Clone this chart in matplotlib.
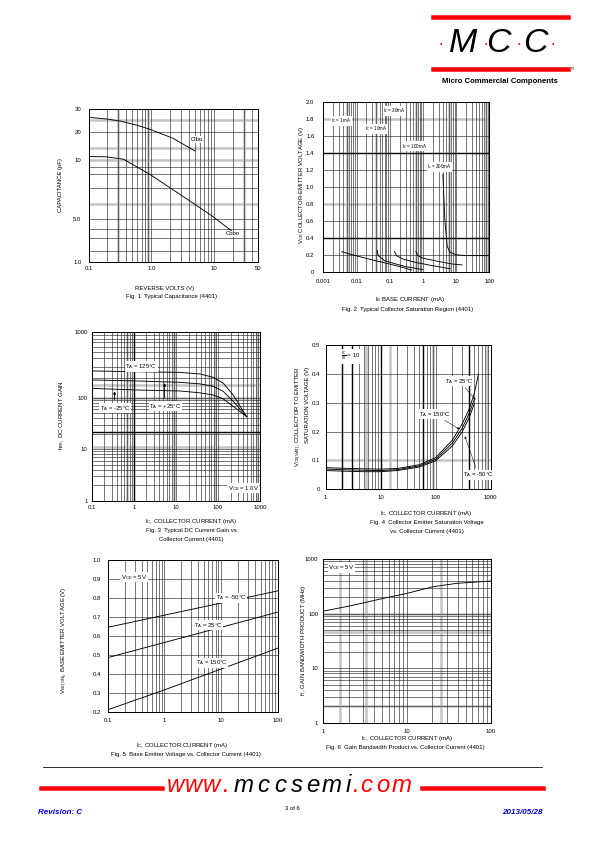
import numpy as np
import matplotlib.pyplot as plt

plt.rcParams['font.family'] = ['Liberation Sans', 'DejaVu Sans']
plt.rcParams['mathtext.fontset'] = 'custom'
plt.rcParams['mathtext.rm'] = 'Liberation Sans'
plt.rcParams['mathtext.it'] = 'Liberation Sans:italic'
plt.rcParams['mathtext.bf'] = 'Liberation Sans:bold'

# ---- data ----
# Fig 1 capacitance
v_cibo = [0.1, 0.195, 0.318, 0.585, 0.95, 2.23, 4.93]
cibo = [25.9, 25.1, 24.2, 22.5, 20.9, 17.0, 12.5]
v_cobo = [0.1, 0.195, 0.36, 0.95, 2.23, 4.66, 9.64, 18.8]
cobo = [10.9, 10.8, 10.2, 8.45, 7.05, 6.03, 5.15, 3.24]

# Fig 2 saturation region (IB mA, VCE V)
ib_1ma = [0.0036, 0.008, 0.0256, 0.081, 0.2, 0.46]
vce_1ma = [0.236, 0.197, 0.146, 0.099, 0.06, 0.02]
ib_10ma = [0.042, 0.045, 0.07, 0.128, 0.3, 1.0]
vce_10ma = [0.25, 0.19, 0.13, 0.1, 0.06, 0.025]
ib_30ma = [0.14, 0.16, 0.25, 0.6, 2.0, 6.6]
vce_30ma = [0.24, 0.19, 0.15, 0.11, 0.07, 0.035]
ib_100ma = [0.62, 0.7, 1.0, 3.0, 8.0, 15.0]
vce_100ma = [0.24, 0.19, 0.16, 0.12, 0.09, 0.08]
ib_300ma = [4.0, 4.6, 5.4, 6.5, 10.0, 20.0, 100.0]
vce_300ma = [1.15, 0.6, 0.3, 0.23, 0.2, 0.19, 0.19]

# Fig 3 DC current gain (IC mA, hFE)
ic_hfe = [0.1, 1.4, 12.5, 37.3, 77.3, 134, 231, 481]
hfe_125 = [257, 249, 244, 231, 205, 167, 110, 42.8]
hfe_25 = [187, 180, 172, 163, 150, 125, 85, 42.8]
hfe_m25 = [139, 131, 127, 119, 110, 95, 68, 42.8]

# Fig 4 VCE(sat)
ic_sat = [1, 2, 5, 10, 20, 50, 100, 200, 300, 400, 500, 600]
vsat_150 = [0.075, 0.073, 0.071, 0.070, 0.072, 0.085, 0.110, 0.170, 0.225, 0.275, 0.330, 0.400]
vsat_25 = [0.070, 0.068, 0.066, 0.065, 0.068, 0.081, 0.104, 0.160, 0.210, 0.260, 0.310, np.nan]
vsat_m50 = [0.065, 0.063, 0.061, 0.061, 0.065, 0.077, 0.099, 0.150, 0.198, 0.245, 0.295, np.nan]

# Fig 5 VBE(on)
ic_vbe = [0.1, 1, 10, 100]
vbe_m50 = [0.645, 0.709, 0.773, 0.837]
vbe_25 = [0.485, 0.565, 0.645, 0.725]
vbe_150 = [0.21, 0.315, 0.425, 0.535]

# Fig 6 fT
ic_ft = [1, 2.08, 5.2, 10, 20.5, 39, 100]
ft = [111, 138, 190, 235, 311, 358, 395]

W, H = 595, 842
fig = plt.figure(figsize=(W / 72, H / 72), dpi=72)


def page_axes(l, t, r, b):
    return fig.add_axes([l / W, 1 - b / H, (r - l) / W, (b - t) / H])


def ptext(x, y, s, **kw):
    kw.setdefault('ha', 'center')
    kw.setdefault('va', 'center')
    kw.setdefault('fontsize', 6)
    fig.text(x / W, 1 - y / H, s, **kw)


def log_minors(lo, hi):
    out = []
    for e in range(-4, 4):
        for m in range(1, 10):
            v = m * 10.0 ** e
            if lo * 1.0001 < v < hi * 0.9999:
                out.append(v)
    return out


def warp_y(ax, ticks, fracs):
    lt = np.log10(ticks)
    fw = lambda v: np.interp(np.log10(np.clip(v, 1e-9, None)), lt, fracs)
    iv = lambda p: 10 ** np.interp(p, fracs, lt)
    ax.set_yscale('function', functions=(fw, iv))


def grid(ax, xs=(), ys=(), gx=(), gy=(), bx=(), by=()):
    for v in gx:
        ax.axvline(v, color='#c4c4c4', lw=2.5, zorder=0.5)
    for v in gy:
        ax.axhline(v, color='#c4c4c4', lw=2.5, zorder=0.5)
    for v in xs:
        ax.axvline(v, color='#222222', lw=0.6, zorder=1)
    for v in ys:
        ax.axhline(v, color='#222222', lw=0.6, zorder=1)
    for v in bx:
        ax.axvline(v, color='black', lw=1.4, zorder=1)
    for v in by:
        ax.axhline(v, color='black', lw=1.4, zorder=1)


def ticks(ax, xt, xl, yt, yl, xpad=4, ypad=6):
    ax.set_xticks(xt)
    ax.set_xticklabels(xl)
    ax.set_yticks(yt)
    ax.set_yticklabels(yl)
    ax.minorticks_off()
    ax.tick_params(axis='x', length=0, labelsize=6, pad=xpad)
    ax.tick_params(axis='y', length=0, labelsize=6, pad=ypad)
    for s in ax.spines.values():
        s.set_linewidth(1.0)


box = dict(facecolor='white', edgecolor='none', pad=0.6)

# ---- Fig 1 ----
ax1 = page_axes(88.5, 109, 258, 261.7)
ax1.set_xscale('log')
warp_y(ax1, [1, 5, 10, 20, 30], [0, 0.278, 0.666, 0.851, 1])
ax1.set_xlim(0.1, 50)
ax1.set_ylim(1, 30)
grid(ax1, xs=log_minors(0.1, 50), ys=[1.5, 2.5, 3.5, 5, 7.2, 8.5, 9.2, 20],
     gx=[0.3, 0.9, 30], gy=[6, 10, 13.3, 24.5])
ax1.plot(v_cibo, cibo, color='black', lw=0.9, zorder=3)
ax1.plot(v_cobo, cobo, color='black', lw=0.9, zorder=3)
ticks(ax1, [0.1, 1, 10, 50], ['0.1', '1.0', '10', '50'],
      [1, 5, 10, 20, 30], ['1.0', '5.0', '10', '20', '30'], xpad=4, ypad=7)
ax1.text(5.4, 16.5, 'Cibo', fontsize=6, ha='center', va='center', bbox=box, zorder=4)
ax1.text(20, 2.9, 'Cobo', fontsize=6, ha='center', va='center', bbox=box, zorder=4)
ptext(60.7, 185, 'CAPACITANCE (pF)', rotation=90)
ptext(165, 288.3, 'REVERSE VOLTS (V)')
ptext(171, 296.7, 'Fig. 1  Typical Capacitance (4401)')

# ---- Fig 2 ----
ax2 = page_axes(323.3, 102.3, 489.3, 271.7)
ax2.set_xscale('log')
ax2.set_xlim(0.001, 100)
ax2.set_ylim(0, 2.0)
grid(ax2, xs=log_minors(0.001, 100), ys=[0.2, 0.6, 1.0, 1.2, 1.6],
     gx=[0.005, 0.04, 0.6, 6, 80], gy=[0.8, 1.8], by=[0.4, 1.4])
for xb, yb in [(ib_1ma, vce_1ma), (ib_10ma, vce_10ma), (ib_30ma, vce_30ma),
               (ib_100ma, vce_100ma), (ib_300ma, vce_300ma)]:
    ax2.plot(xb, yb, color='black', lw=0.9, zorder=3)
ticks(ax2, [0.001, 0.01, 0.1, 1, 10, 100], ['0.001', '0.01', '0.1', '1', '10', '100'],
      np.arange(0, 2.01, 0.2), ['0'] + ['%.1f' % v for v in np.arange(0.2, 2.01, 0.2)],
      xpad=7, ypad=9)
ax2.text(0.0035, 1.78, 'I$_\\mathrm{C}$ = 1mA', fontsize=4.5, ha='center', va='center', bbox=box, zorder=4)
ax2.text(0.04, 1.69, 'I$_\\mathrm{C}$ = 10mA', fontsize=4.5, ha='center', va='center', bbox=box, zorder=4)
ax2.text(0.14, 1.9, 'I$_\\mathrm{C}$ = 30mA', fontsize=4.5, ha='center', va='center', bbox=box, zorder=4)
ax2.text(0.58, 1.48, 'I$_\\mathrm{C}$ = 100mA', fontsize=4.5, ha='center', va='center', bbox=box, zorder=4)
ax2.text(3.2, 1.24, 'I$_\\mathrm{c}$ = 300mA', fontsize=4.5, ha='center', va='center', bbox=box, zorder=4)
ptext(301, 185, 'V$_\\mathrm{CE}$ COLLECTOR-EMITTER VOLTAGE (V)', rotation=90)
ptext(410, 299, 'I$_\\mathrm{B}$ BASE CURRENT (mA)')
ptext(408, 310, 'Fig. 2  Typical Collector Saturation Region (4401)')

# ---- Fig 3 ----
ax3 = page_axes(91.7, 332.3, 260, 501)
ax3.set_xscale('log')
warp_y(ax3, [1, 10, 100, 1000], [0, 0.308, 0.612, 1])
ax3.set_xlim(0.1, 1000)
ax3.set_ylim(1, 1000)
grid(ax3, xs=log_minors(0.1, 1000), ys=log_minors(1, 1000),
     gx=[0.7, 9, 85, 850], gy=[11, 100, 157], bx=[1], by=[21.8])
ax3.plot(ic_hfe, hfe_125, color='black', lw=0.9, zorder=3)
ax3.plot(ic_hfe, hfe_25, color='black', lw=0.9, zorder=3)
ax3.plot(ic_hfe, hfe_m25, color='black', lw=0.9, zorder=3)
ticks(ax3, [0.1, 1, 10, 100, 1000], ['0.1', '1', '10', '100', '1000'],
      [1, 10, 100, 1000], ['1', '10', '100', '1000'], xpad=4, ypad=4)
ax3.text(1.5, 300, 'T$_\\mathrm{A}$ = 125°C', fontsize=6, ha='center', va='center', bbox=box, zorder=4)
ax3.text(0.36, 62, 'T$_\\mathrm{A}$ = -25°C', fontsize=6, ha='center', va='center', bbox=box, zorder=4)
ax3.text(5.6, 68, 'T$_\\mathrm{A}$ = +25°C', fontsize=6, ha='center', va='center', bbox=box, zorder=4)
ax3.annotate('', xy=(0.35, 135), xytext=(0.35, 84),
             arrowprops=dict(arrowstyle='-|>', color='black', lw=0.9, mutation_scale=5), zorder=4)
ax3.annotate('', xy=(5.4, 180), xytext=(5.4, 92),
             arrowprops=dict(arrowstyle='-|>', color='black', lw=0.9, mutation_scale=5), zorder=4)
ax3.text(400, 1.75, 'V$_\\mathrm{CE}$ = 1.0V', fontsize=6, ha='center', va='center', bbox=box, zorder=4)
ptext(61.7, 415, 'h$_\\mathrm{FE}$, DC CURRENT GAIN', rotation=90)
ptext(191, 521.7, 'I$_\\mathrm{C}$, COLLECTOR CURRENT (mA)')
ptext(191, 530.7, 'Fig. 3  Typical DC Current Gain vs')
ptext(191, 540, 'Collector Current (4401)')

# ---- Fig 4 ----
ax4 = page_axes(325.7, 345, 490.7, 489.3)
ax4.set_xscale('log')
ax4.set_xlim(1, 1000)
ax4.set_ylim(0, 0.5)
grid(ax4, xs=log_minors(1, 1000), ys=[0.2, 0.3, 0.4], gx=[5.5, 15, 88, 850],
     gy=[0.1], bx=[2, 3, 10, 60, 400])
ax4.plot(ic_sat, vsat_150, color='black', lw=0.9, zorder=3)
ax4.plot(ic_sat, vsat_25, color='black', lw=0.9, zorder=3)
ax4.plot(ic_sat, vsat_m50, color='black', lw=0.9, zorder=3)
ticks(ax4, [1, 10, 100, 1000], ['1', '10', '100', '1000'],
      [0, 0.1, 0.2, 0.3, 0.4, 0.5], ['0', '0.1', '0.2', '0.3', '0.4', '0.5'], xpad=6, ypad=6)
ax4.text(1.9, 0.46, '$\\frac{\\mathrm{I_C}}{\\mathrm{I_B}}$ = 10', fontsize=6, ha='left', va='center', bbox=box, zorder=4)
ax4.annotate('T$_\\mathrm{A}$ = 25°C', xy=(560, 0.305), xytext=(270, 0.375),
             fontsize=6, ha='center', va='center', bbox=box, zorder=4,
             arrowprops=dict(arrowstyle='-|>', color='black', lw=0.5, mutation_scale=4))
ax4.annotate('T$_\\mathrm{A}$ = 150°C', xy=(290, 0.205), xytext=(95, 0.26),
             fontsize=6, ha='center', va='center', bbox=box, zorder=4,
             arrowprops=dict(arrowstyle='-|>', color='black', lw=0.5, mutation_scale=4))
ax4.annotate('T$_\\mathrm{A}$ = -50°C', xy=(330, 0.19), xytext=(600, 0.05),
             fontsize=6, ha='center', va='center', bbox=box, zorder=4,
             arrowprops=dict(arrowstyle='-|>', color='black', lw=0.5, mutation_scale=4))
ptext(299, 417, 'V$_\\mathrm{CE(SAT)}$, COLLECTOR TO EMITTER', rotation=90)
ptext(307.5, 405, 'SATURATION VOLTAGE (V)', rotation=90)
ptext(426, 513.3, 'I$_\\mathrm{C}$, COLLECTOR CURRENT (mA)')
ptext(427, 522.3, 'Fig. 4  Collector Emitter Saturation Voltage')
ptext(427, 531.7, 'vs. Collector Current (4401)')

# ---- Fig 5 ----
ax5 = page_axes(107.7, 560, 277.7, 711.7)
ax5.set_xscale('log')
ax5.set_xlim(0.1, 100)
ax5.set_ylim(0.2, 1.0)
grid(ax5, xs=log_minors(0.1, 100), ys=np.arange(0.3, 0.95, 0.1))
ax5.plot(ic_vbe, vbe_m50, color='black', lw=0.9, zorder=3)
ax5.plot(ic_vbe, vbe_25, color='black', lw=0.9, zorder=3)
ax5.plot(ic_vbe, vbe_150, color='black', lw=0.9, zorder=3)
ticks(ax5, [0.1, 1, 10, 100], ['0.1', '1', '10', '100'],
      np.arange(0.2, 1.01, 0.1), ['%.1f' % v for v in np.arange(0.2, 1.01, 0.1)], xpad=6, ypad=7)
ax5.text(0.29, 0.91, 'V$_\\mathrm{CE}$ = 5V', fontsize=6, ha='center', va='center', bbox=box, zorder=4)
ax5.text(15, 0.80, 'T$_\\mathrm{A}$ = -50°C', fontsize=6, ha='center', va='center', bbox=box, zorder=4)
ax5.text(6, 0.655, 'T$_\\mathrm{A}$ = 25°C', fontsize=6, ha='center', va='center', bbox=box, zorder=4)
ax5.text(6.8, 0.458, 'T$_\\mathrm{A}$ = 150°C', fontsize=6, ha='center', va='center', bbox=box, zorder=4)
ptext(65, 640, 'V$_\\mathrm{BE(ON)}$, BASE EMITTER VOLTAGE (V)', rotation=90)
ptext(182.5, 745, 'I$_\\mathrm{C}$, COLLECTOR CURRENT (mA)')
ptext(186, 754.3, 'Fig. 5  Base Emitter Voltage vs. Collector Current (4401)')

# ---- Fig 6 ----
ax6 = page_axes(323.3, 559, 491, 722.7)
ax6.set_xscale('log')
ax6.set_yscale('log')
ax6.set_xlim(1, 100)
ax6.set_ylim(1, 1000)
grid(ax6, xs=log_minors(1, 100), ys=log_minors(1, 1000),
     gx=[1.6, 3.2, 25], gy=[2, 45, 100])
ax6.plot(ic_ft, ft, color='black', lw=0.9, zorder=3)
ticks(ax6, [1, 10, 100], ['1', '10', '100'], [1, 10, 100, 1000], ['1', '10', '100', '1000'],
      xpad=6, ypad=5)
ax6.text(1.65, 700, 'V$_\\mathrm{CE}$ = 5V', fontsize=6, ha='center', va='center', bbox=box, zorder=4)
ptext(303, 640, 'f$_\\mathrm{T}$, GAIN BANDWIDTH PRODUCT (MHz)', rotation=90)
ptext(407.5, 738.3, 'I$_\\mathrm{C}$, COLLECTOR CURRENT (mA)')
ptext(405, 747.3, 'Fig. 6  Gain Bandwidth Product vs. Collector Current (4401)')

# ---- header ----
red = '#ff0000'
fig.add_artist(plt.Line2D([433.3 / W, 567.7 / W], [1 - 16.7 / H] * 2, color=red, lw=4.5))
fig.add_artist(plt.Line2D([433.3 / W, 567.7 / W], [1 - 69.3 / H] * 2, color=red, lw=4.5))
for cx, ch in [(462.7, 'M'), (498.3, 'C'), (535, 'C')]:
    ptext(cx, 43, ch, fontsize=34, style='italic', color='black')
for dx in [440.7, 486, 519.3, 553.3]:
    ptext(dx, 44.3, '•', fontsize=7, color=red)
ptext(570.7, 69.3, 'TM', fontsize=2.5, ha='left')
ptext(500, 81.7, 'Micro Commercial Components', fontsize=7.8, weight='bold')

# ---- footer ----
fig.add_artist(plt.Line2D([43 / W, 542 / W], [1 - 767.3 / H] * 2, color='black', lw=0.8))
fig.add_artist(plt.Line2D([41 / W, 161.7 / W], [1 - 788.3 / H] * 2, color=red, lw=4.5))
fig.add_artist(plt.Line2D([422 / W, 543.3 / W], [1 - 788.3 / H] * 2, color=red, lw=4.5))
url_x = [175, 193.3, 211.7, 225, 243.3, 263.3, 280, 296.7, 313.3, 331.7, 348.3, 355, 366.7, 383.3, 401.7]
for i, (cx, ch) in enumerate(zip(url_x, 'www.mccsemi.com')):
    col = 'black'
    if i < 4 or i > 10:
        col = red
    ptext(cx, 785, ch, fontsize=24, style='italic', color=col)
ptext(38.3, 812.7, 'Revision: C', fontsize=8, weight='bold', style='italic', color='#0000dd', ha='left')
ptext(543, 812.7, '2013/05/28', fontsize=8, weight='bold', style='italic', color='#0000dd', ha='right')
ptext(292, 808.7, '3 of 6', fontsize=6)

fig.savefig('out.png', dpi=72)
